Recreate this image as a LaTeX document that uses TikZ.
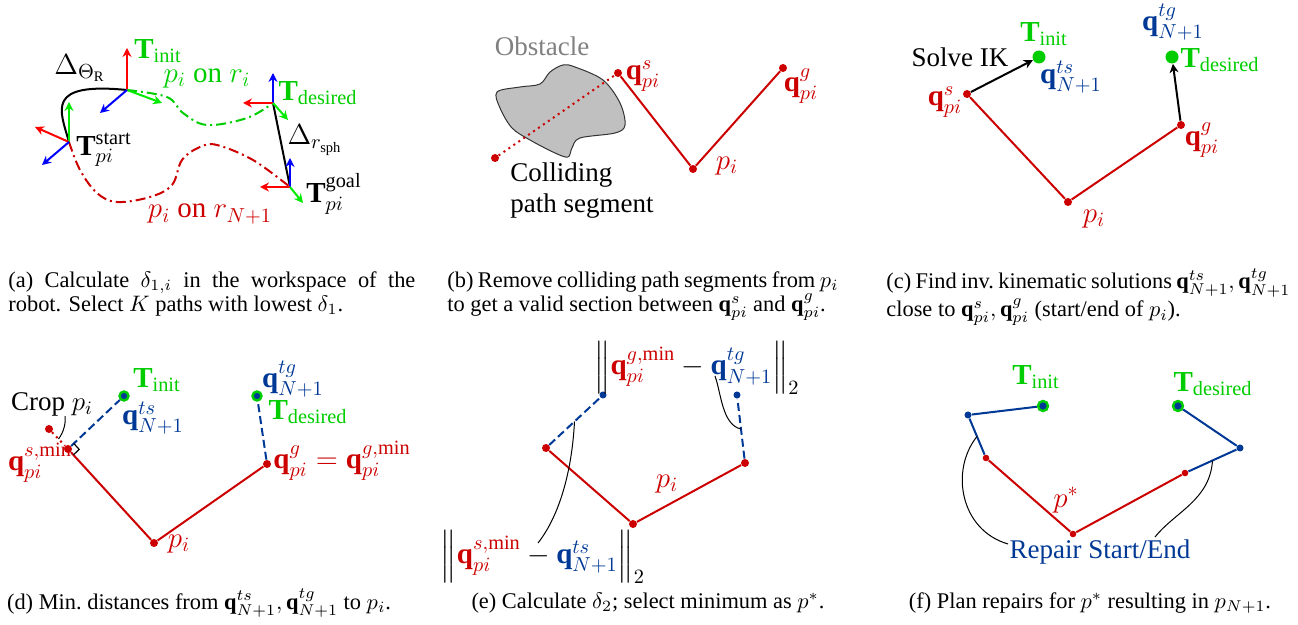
\RequirePackage{fix-cm}
\documentclass[tikz,border=0pt]{standalone}
\usepackage{amsmath}
\usepackage{fontspec}
\setmainfont{Liberation Serif}
\usepackage{xcolor}
\usetikzlibrary{arrows.meta, calc}

\definecolor{pred}{RGB}{204,0,0}
\definecolor{pblue}{RGB}{0,56,150}
\definecolor{tgreen}{RGB}{0,205,0}
\definecolor{agreen}{RGB}{0,235,0}
\definecolor{obst}{RGB}{192,192,192}

\begin{document}
\begin{tikzpicture}[x=0.5pt, y=-0.5pt, >={Stealth[length=4.5pt, width=4.5pt]},
  lbl/.style={font=\fontsize{13.5}{15.5}\selectfont, inner sep=0pt},
  mlbl/.style={font=\fontsize{14.5}{16}\selectfont, inner sep=0pt},
  captext/.style={font=\fontsize{11.2}{12.2}\selectfont, inner sep=0pt, anchor=north west, align=justify},
  capline/.style={font=\fontsize{11.2}{12.2}\selectfont, inner sep=0pt},
  axr/.style={->, red, line width=1pt},
  axg/.style={->, agreen, line width=1pt},
  axb/.style={->, blue, line width=1pt},
  rpath/.style={pred, line width=1pt},
  bpath/.style={pblue, line width=1pt},
  bdash/.style={pblue, line width=1pt, dash pattern=on 4pt off 2pt},
  dashdot/.style={line width=1pt, dash pattern=on 5pt off 2pt on 1pt off 2pt},
  rdot/.style={circle, fill=pred, inner sep=0pt, minimum size=4pt},
  bdot/.style={circle, fill=pblue, inner sep=0pt, minimum size=3.5pt},
  gdot/.style={circle, fill=tgreen, inner sep=0pt, minimum size=6.5pt},
  rgdot/.style={circle, fill=pblue, draw=tgreen, line width=1.2pt, inner sep=0pt, minimum size=4.5pt},
  lead/.style={black, line width=0.5pt}]
  \useasboundingbox (0,0) rectangle (1298,625);

  % (a)
  \coordinate (ti) at (127,90);
  \coordinate (ts) at (69,142);
  \coordinate (td) at (273,103);
  \coordinate (tg) at (290,187);
  \draw[line width=1pt] (ti) .. controls (45,82) and (60,110) .. (ts);
  \draw[line width=1pt] (td) -- (tg);
  \draw[tgreen, dashdot] plot[smooth, tension=0.6] coordinates {(ti) (167,97) (183,113) (207,125) (247,118) (td)};
  \draw[pred, dashdot] plot[smooth, tension=0.6] coordinates {(ts) (80,170) (97,193) (117,202) (150,197) (172,185) (182,160) (200,147) (217,145) (253,160) (tg)};
  \draw[axr] (ti) -- ++(0,-42);
  \draw[axg] (ti) -- ++(35,13);
  \draw[axb] (ti) -- ++(-27,23);
  \draw[axg] (ts) -- ++(0,-40);
  \draw[axr] (ts) -- ++(-34,-15);
  \draw[axb] (ts) -- ++(-27,23);
  \draw[axb] (td) -- ++(0,-30);
  \draw[axr] (td) -- ++(-30,0);
  \draw[axg] (td) -- ++(15,17);
  \draw[axb] (tg) -- ++(0,-29);
  \draw[axr] (tg) -- ++(-30,0);
  \draw[axg] (tg) -- ++(13,16);
  \node[mlbl, text=tgreen] (ainit) at (158,51) {$\mathbf{T}_{\text{init}}$};
  \node[mlbl] (adth) at (80,68) {$\Delta_{\Theta_{\mathrm{R}}}$};
  \node[mlbl, text=tgreen] (ari) at (207,78) {$p_i$ on $r_i$};
  \node[mlbl, text=tgreen] (ades) at (318,93) {$\mathbf{T}_{\text{desired}}$};
  \node[mlbl] (astart) at (104,150) {$\mathbf{T}^{\text{start}}_{pi}$};
  \node[mlbl] (arsph) at (315,140) {$\Delta_{r_{\mathrm{sph}}}$};
  \node[mlbl] (agoal) at (334,194) {$\mathbf{T}^{\text{goal}}_{pi}$};
  \node[mlbl, text=pred] (arn) at (210,214) {$p_i$ on $r_{N+1}$};

  % (b)
  \node[lbl, text=gray] (obsl) at (542,46) {Obstacle};
  \draw[fill=obst, draw=black!80, line width=0.5pt] plot[smooth cycle, tension=0.55] coordinates {(497,92) (520,87) (540,84) (550,72) (563,65) (575,67) (603,80) (620,103) (625,125) (615,133) (580,138) (572,148) (568,157) (555,153) (530,140) (512,128) (500,108)};
  \node[rdot] (b0) at (495,158) {};
  \node[rdot] (b1) at (618,73) {};
  \node[rdot] (b2) at (693,169) {};
  \node[rdot] (b3) at (783,68) {};
  \draw[pred, line width=1pt, dotted] (b0) -- (b1);
  \draw[rpath] (b1) -- (b2) -- (b3);
  \node[mlbl, text=pred] (bqs) at (643,76) {$\mathbf{q}^{s}_{pi}$};
  \node[mlbl, text=pred] (bqg) at (801,86) {$\mathbf{q}^{g}_{pi}$};
  \node[mlbl, text=pred] (bpi) at (727,166) {$p_i$};
  \node[lbl, anchor=north west, align=left] (bcol) at (510,162) {Colliding\\path segment};

  % (c)
  \node[gdot] (cti) at (1039,57) {};
  \node[gdot] (ctd) at (1172,57) {};
  \node[rdot] (c1) at (967,94) {};
  \node[rdot] (c2) at (1068,202) {};
  \node[rdot] (c3) at (1181,125) {};
  \draw[rpath] (c1) -- (c2) -- (c3);
  \draw[->, line width=1pt] (c1) -- (cti);
  \draw[->, line width=1pt] (c3) -- (ctd);
  \node[mlbl, text=tgreen] (cinit) at (1044,34) {$\mathbf{T}_{\text{init}}$};
  \node[lbl] (cik) at (960,57) {Solve IK};
  \node[mlbl, text=pblue] (cqts) at (1071,77) {$\mathbf{q}^{ts}_{N+1}$};
  \node[mlbl, text=pred] (cqs) at (945,102) {$\mathbf{q}^{s}_{pi}$};
  \node[mlbl, text=pred] (cpi) at (1094,219) {$p_i$};
  \node[mlbl, text=pred] (cqg) at (1202,140) {$\mathbf{q}^{g}_{pi}$};
  \node[mlbl, text=tgreen] (cdes) at (1220,60) {$\mathbf{T}_{\text{desired}}$};
  \node[mlbl, text=pblue] (cqtg) at (1173,22) {$\mathbf{q}^{tg}_{N+1}$};

  % (d)
  \node[rgdot] (dts) at (124,396) {};
  \node[rgdot] (dtg) at (257,396) {};
  \node[rdot] (d0) at (49,429) {};
  \node[rdot] (d1) at (68,449) {};
  \node[rdot] (d2) at (154,543) {};
  \node[rdot] (d3) at (267,464) {};
  \draw[pred, line width=1pt, dotted] (d0) -- (d1);
  \draw[rpath] (d1) -- (d2) -- (d3);
  \draw[bdash] (d1) -- (dts);
  \draw[bdash] (d3) -- (dtg);
  \draw[line width=0.6pt] (73.8,443.5) -- (79.2,449.4) -- (73.4,454.9);
  \node[lbl] (dcrop) at (52,404) {Crop $p_i$};
  \draw[lead] ($(d0)!0.5!(d1)$) .. controls (64,432) and (66,422) .. ($(dcrop.south)+(13,0)$);
  \node[mlbl, text=tgreen] (dinit) at (157,380) {$\mathbf{T}_{\text{init}}$};
  \node[mlbl, text=pblue] (dqtg) at (293,379) {$\mathbf{q}^{tg}_{N+1}$};
  \node[mlbl, text=pblue] (dqts) at (153,418) {$\mathbf{q}^{ts}_{N+1}$};
  \node[mlbl, text=tgreen] (ddes) at (308,412) {$\mathbf{T}_{\text{desired}}$};
  \node[mlbl, text=pred] (dqs) at (40,463) {$\mathbf{q}^{s,\mathrm{min}}_{pi}$};
  \node[mlbl, text=pred] (dpi) at (179,544) {$p_i$};
  \node[mlbl, text=pred, anchor=west] (dqg) at (273,461) {$\mathbf{q}^{g}_{pi}=\mathbf{q}^{g,\mathrm{min}}_{pi}$};

  % (e)
  \node[bdot] (e0) at (603,395) {};
  \node[bdot] (e1) at (737,395) {};
  \node[rdot] (e2) at (546,448) {};
  \node[rdot] (e3) at (633,524) {};
  \node[rdot] (e4) at (745,463) {};
  \draw[rpath] (e2) -- (e3) -- (e4);
  \draw[bdash] (e2) -- (e0);
  \draw[bdash] (e4) -- (e1);
  \node[mlbl, text=pred] (epi) at (667,484) {$p_i$};
  \node[mlbl] (enorms) at (543,557) {$\Big\|{\color{pred}\mathbf{q}^{s,\mathrm{min}}_{pi}}-{\color{pblue}\mathbf{q}^{ts}_{N+1}}\Big\|_2$};
  \node[mlbl] (enormg) at (697,368) {$\Big\|{\color{pred}\mathbf{q}^{g,\mathrm{min}}_{pi}}-{\color{pblue}\mathbf{q}^{tg}_{N+1}}\Big\|_2$};
  \coordinate (es) at (538,543);
  \coordinate (eg) at (715,376);
  \draw[lead] (es) .. controls (560,515) and (572,470) .. ($(e2)!0.5!(e0)$);
  \draw[lead] (eg) .. controls (721,392) and (722,425) .. ($(e4)!0.5!(e1)$);

  % (f)
  \node[rgdot, minimum size=5pt] (fti) at (1043,406) {};
  \node[rgdot, minimum size=5pt] (ftd) at (1178,406) {};
  \node[bdot] (f0) at (968,415) {};
  \node[bdot] (f4) at (1240,448) {};
  \node[rdot, minimum size=3.3pt] (f1) at (986,458) {};
  \node[rdot, minimum size=3.3pt] (f2) at (1073,534) {};
  \node[rdot, minimum size=3.3pt] (f3) at (1185,473) {};
  \draw[bpath] (fti) -- (f0) -- (f1);
  \draw[rpath] (f1) -- (f2) -- (f3);
  \draw[bpath] (f3) -- (f4) -- (ftd);
  \node[mlbl, text=tgreen] (finit) at (1036,377) {$\mathbf{T}_{\text{init}}$};
  \node[mlbl, text=tgreen] (fdes) at (1213,384) {$\mathbf{T}_{\text{desired}}$};
  \node[mlbl, text=pred] (fp) at (1066,500) {$p^{*}$};
  \node[lbl, text=pblue] (frep) at (1100,552) {Repair Start/End};
  \coordinate (fl) at (1008,544);
  \coordinate (fr) at (1155,537);
  \draw[lead] (fl) .. controls (960,530) and (950,470) .. ($(f0)!0.5!(f1)$);
  \draw[lead] (fr) .. controls (1175,512) and (1210,500) .. ($(f3)!0.5!(f4)$);

  % captions
  \node[captext, text width=203.5pt] (capa) at (8,271) {(a) Calculate $\delta_{1,i}$ in the workspace of the\linebreak robot. Select $K$ paths with lowest $\delta_1$.};
  \node[captext, text width=195.5pt] (capb) at (447,271) {(b) Remove colliding path segments from $p_i$\linebreak to get a valid section between $\mathbf{q}^s_{pi}$ and $\mathbf{q}^g_{pi}$.};
  \node[captext, text width=202pt] (capc) at (886,268) {(c) Find inv.\ kinematic solutions $\mathbf{q}^{ts}_{N+1}, \mathbf{q}^{tg}_{N+1}$\linebreak close to $\mathbf{q}^s_{pi}, \mathbf{q}^g_{pi}$ (start/end of $p_i$).};
  \node[capline] (capd) at (199,603) {(d) Min.\ distances from $\mathbf{q}^{ts}_{N+1}, \mathbf{q}^{tg}_{N+1}$ to $p_i$.};
  \node[capline] (cape) at (648,603) {(e) Calculate $\delta_2$; select minimum as $p^*$.};
  \node[capline] (capf) at (1090,603) {(f) Plan repairs for $p^*$ resulting in $p_{N+1}$.};
\end{tikzpicture}
\end{document}
